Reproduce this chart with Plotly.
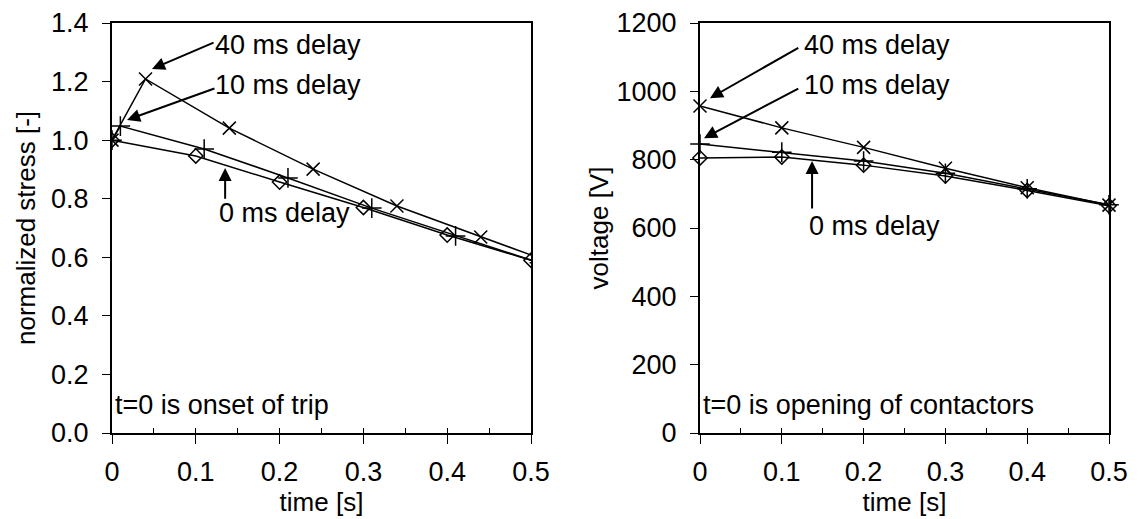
import plotly.graph_objects as go

# ---- data: left panel (normalized stress) ----
stress_t_0ms = [0.0, 0.1, 0.2, 0.3, 0.4, 0.5]
stress_0ms = [1.0, 0.946, 0.857, 0.770, 0.676, 0.590]
stress_t_10ms = [0.0, 0.01, 0.11, 0.21, 0.31, 0.41, 0.51]
stress_10ms = [1.0, 1.048, 0.970, 0.871, 0.768, 0.673, 0.581]
stress_t_40ms = [0.0, 0.04, 0.14, 0.24, 0.34, 0.44, 0.54]
stress_40ms = [1.0, 1.209, 1.041, 0.901, 0.775, 0.669, 0.566]

# ---- data: right panel (voltage) ----
volt_t = [0.0, 0.1, 0.2, 0.3, 0.4, 0.5]
volt_0ms = [805, 808, 784, 752, 710, 665]
volt_10ms = [846, 822, 796, 760, 715, 668]
volt_40ms = [957, 893, 836, 775, 718, 667]

x_ticks = [0, 0.1, 0.2, 0.3, 0.4, 0.5]
x_tick_text = ["0", "0.1", "0.2", "0.3", "0.4", "0.5"]
stress_ticks = [0.0, 0.2, 0.4, 0.6, 0.8, 1.0, 1.2, 1.4]
volt_ticks = [0, 200, 400, 600, 800, 1000, 1200]

FONT = "Liberation Sans, Arial, sans-serif"
FS = 27
FT = 26
# page has an 8px body margin: the figure fills the rest of the 1138x519 window
OFF = 8
W, H = 1138 - OFF, 519 - OFF

def px(x):
    return (x - OFF) / W

def py(y):
    return 1 - (y - OFF) / H

fig = go.Figure()

line = dict(color="black", width=1.5)
mk_d = dict(symbol="diamond-open", size=11, color="black", line=dict(width=1.5, color="black"))
mk_p = dict(symbol="cross-thin", size=14, color="black", line=dict(width=1.5, color="black"))
mk_x = dict(symbol="x-thin", size=13, color="black", line=dict(width=1.5, color="black"))

fig.add_trace(go.Scatter(x=stress_t_0ms, y=stress_0ms, mode="lines+markers", line=line, marker=mk_d, xaxis="x", yaxis="y"))
fig.add_trace(go.Scatter(x=stress_t_10ms, y=stress_10ms, mode="lines+markers", line=line, marker=mk_p, xaxis="x", yaxis="y"))
fig.add_trace(go.Scatter(x=stress_t_40ms, y=stress_40ms, mode="lines+markers", line=line, marker=mk_x, xaxis="x", yaxis="y"))

fig.add_trace(go.Scatter(x=volt_t, y=volt_0ms, mode="lines+markers", line=line, marker=mk_d, xaxis="x2", yaxis="y2", cliponaxis=False))
fig.add_trace(go.Scatter(x=volt_t, y=volt_10ms, mode="lines+markers", line=line, marker=mk_p, xaxis="x2", yaxis="y2", cliponaxis=False))
fig.add_trace(go.Scatter(x=volt_t, y=volt_40ms, mode="lines+markers", line=line, marker=mk_x, xaxis="x2", yaxis="y2", cliponaxis=False))

xd1 = [px(112), px(531)]
xd2 = [px(700), px(1109)]
yd = [py(433), py(23)]

tickfont = dict(family=FONT, size=FS, color="black")
titlefont = dict(family=FONT, size=FT, color="black")

def xaxis_main(domain, anchor):
    return dict(domain=domain, anchor=anchor, range=[0, 0.5], tickvals=x_ticks, ticktext=x_tick_text,
                ticks="outside", ticklen=9, tickwidth=1, tickcolor="black", ticklabelstandoff=5,
                showline=True, linecolor="black", linewidth=2, mirror=True, automargin=False,
                showgrid=False, zeroline=False, tickfont=tickfont,
                title=dict(text="time [s]", font=titlefont, standoff=0))

def xaxis_inner(domain, anchor, overlay):
    return dict(domain=domain, anchor=anchor, overlaying=overlay, range=[0, 0.5], dtick=0.05, tick0=0,
                ticks="inside", ticklen=5, tickwidth=1, tickcolor="black", automargin=False,
                showticklabels=False, showline=False, showgrid=False, zeroline=False)

fig.update_layout(
    width=W, height=H,
    margin=dict(l=0, r=0, t=0, b=0, autoexpand=False),
    paper_bgcolor="white", plot_bgcolor="white",
    showlegend=False,
    font=dict(family=FONT, size=FS, color="black"),
    xaxis=xaxis_main(xd1, "y"),
    xaxis2=xaxis_main(xd2, "y2"),
    xaxis3=xaxis_inner(xd1, "y", "x"),
    xaxis4=xaxis_inner(xd2, "y2", "x2"),
    yaxis=dict(domain=yd, anchor="x", range=[0, 1.4], tickvals=stress_ticks, tickformat=".1f",
               ticks="outside", ticklen=8, tickwidth=1, tickcolor="black", ticklabelstandoff=8,
               showline=True, linecolor="black", linewidth=2, mirror=True, automargin=False,
               showgrid=False, zeroline=False, tickfont=tickfont,
               title=dict(text="normalized stress [-]", font=titlefont, standoff=8)),
    yaxis2=dict(domain=yd, anchor="x2", range=[0, 1200], tickvals=volt_ticks,
                ticks="outside", ticklen=8, tickwidth=1, tickcolor="black", ticklabelstandoff=8,
                showline=True, linecolor="black", linewidth=2, mirror=True, automargin=False,
                showgrid=False, zeroline=False, tickfont=tickfont,
                title=dict(text="voltage [V]", font=titlefont, standoff=0)),
)

# invisible traces to activate overlay axes
fig.add_trace(go.Scatter(x=[0], y=[0], mode="markers", marker=dict(opacity=0), xaxis="x3", yaxis="y", hoverinfo="skip"))
fig.add_trace(go.Scatter(x=[0], y=[0], mode="markers", marker=dict(opacity=0), xaxis="x4", yaxis="y2", hoverinfo="skip"))

afont = dict(family=FONT, size=FS, color="black")

def arrow(xr, yr, x, y, ax, ay):
    fig.add_annotation(xref=xr, yref=yr, axref=xr, ayref=yr, x=x, y=y, ax=ax, ay=ay, text="",
                       showarrow=True, arrowhead=2, arrowsize=1.3, arrowwidth=2, arrowcolor="black", standoff=0)

def label(xr, yr, x, y, text):
    fig.add_annotation(xref=xr, yref=yr, x=x, y=y, text=text, showarrow=False,
                       xanchor="left", yanchor="middle", font=afont, borderpad=0)

# left panel annotations
label("x", "y", 0.122, 1.325, "40 ms delay")
arrow("x", "y", 0.0477, 1.243, 0.123, 1.335)
label("x", "y", 0.122, 1.188, "10 ms delay")
arrow("x", "y", 0.018, 1.069, 0.124, 1.178)
label("x", "y", 0.126, 0.751, "0 ms delay")
arrow("x", "y", 0.135, 0.905, 0.135, 0.795)
label("x", "y", 0.002, 0.0956, "t=0 is onset of trip")

# right panel annotations
label("x2", "y2", 0.126, 1136, "40 ms delay")
arrow("x2", "y2", 0.0122, 980, 0.122, 1130)
label("x2", "y2", 0.126, 1018, "10 ms delay")
arrow("x2", "y2", 0.0049, 863, 0.122, 1010)
label("x2", "y2", 0.132, 606, "0 ms delay")
arrow("x2", "y2", 0.137, 796, 0.137, 653)
label("x2", "y2", 0.003, 82, "t=0 is opening of contactors")

fig.write_html("out.html")
